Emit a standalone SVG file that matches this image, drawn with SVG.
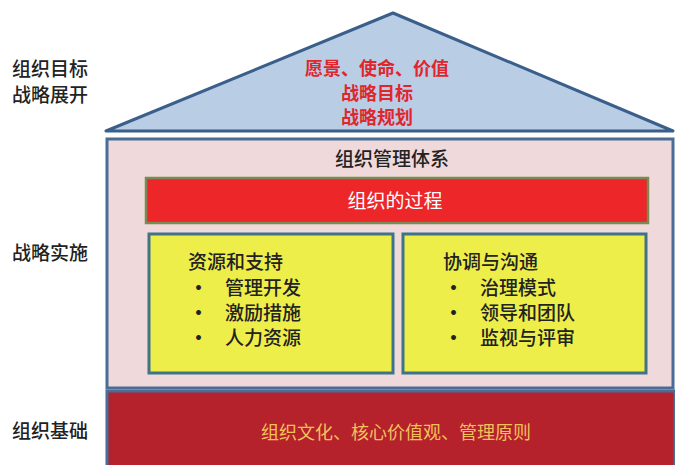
<svg xmlns="http://www.w3.org/2000/svg" width="675" height="465" viewBox="0 0 675 465">
<style>
text{font-family:"Noto Sans CJK SC","Noto Sans",sans-serif;}
.lbl{font-size:19px;fill:#222;font-weight:500;}
.roof{font-size:18px;font-weight:bold;fill:#e0262c;text-anchor:middle;}
.body{font-size:19px;fill:#222;font-weight:500;}
.bul{font-size:19px;fill:#222;font-weight:bold;}
.ybox{fill:#eeee4a;stroke:#3f7487;stroke-width:3;}
</style>
<rect width="675" height="465" fill="#ffffff"/>
<g id="side-labels">
<text class="lbl" x="12" y="76">组织目标</text>
<text class="lbl" x="12" y="102">战略展开</text>
<text class="lbl" x="12" y="260">战略实施</text>
<text class="lbl" x="12" y="438">组织基础</text>
</g>
<g id="roof">
<polygon points="393,13 106,131 673,131" fill="#b9cde5" stroke="#3a5f8a" stroke-width="3" stroke-linejoin="round"/>
<text class="roof" x="377" y="75">愿景、使命、价值</text>
<text class="roof" x="377" y="99.5">战略目标</text>
<text class="roof" x="377" y="124">战略规划</text>
</g>
<g id="system">
<rect x="107" y="139" width="566" height="249" fill="#efd9da" stroke="#4a6d96" stroke-width="3"/>
<text class="body" x="392" y="166" text-anchor="middle" font-size="18">组织管理体系</text>
</g>
<g id="process">
<rect x="146" y="178" width="502" height="45" fill="#ec2629" stroke="#7a8a55" stroke-width="2.5"/>
<text x="395" y="208" text-anchor="middle" font-size="19" fill="#ffffff">组织的过程</text>
</g>
<g id="resources">
<rect class="ybox" x="149" y="234" width="244" height="139"/>
<text class="body" x="188" y="269">资源和支持</text>
<text class="bul" x="189" y="295">•</text><text class="body" x="225" y="295">管理开发</text>
<text class="bul" x="189" y="320">•</text><text class="body" x="225" y="320">激励措施</text>
<text class="bul" x="189" y="345">•</text><text class="body" x="225" y="345">人力资源</text>
</g>
<g id="coordination">
<rect class="ybox" x="403" y="234" width="243" height="139"/>
<text class="body" x="443" y="269">协调与沟通</text>
<text class="bul" x="444" y="295">•</text><text class="body" x="480" y="295">治理模式</text>
<text class="bul" x="444" y="320">•</text><text class="body" x="480" y="320">领导和团队</text>
<text class="bul" x="444" y="345">•</text><text class="body" x="480" y="345">监视与评审</text>
</g>
<g id="foundation">
<rect x="107" y="391" width="568" height="76" fill="#b5222c" stroke="#4a6d96" stroke-width="3"/>
<text x="396" y="439" text-anchor="middle" font-size="18" fill="#f2c15a">组织文化、核心价值观、管理原则</text>
</g>
<g id="connectors"></g>
</svg>
